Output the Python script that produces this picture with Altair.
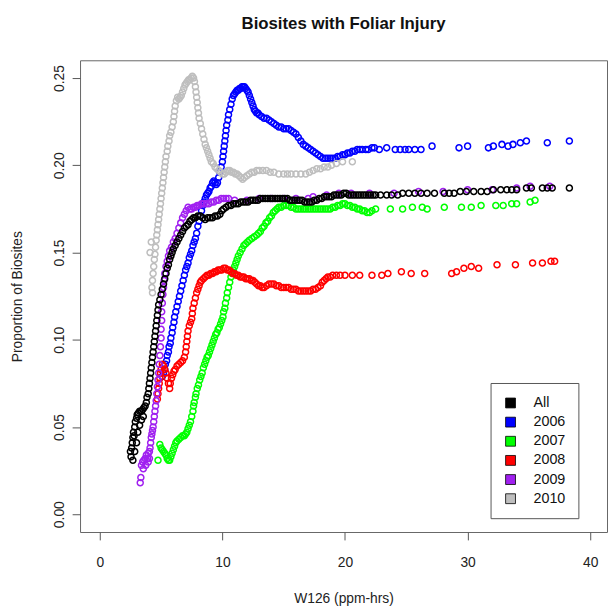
import altair as alt
import pandas as pd

series_names = ["All", "2006", "2007", "2008", "2009", "2010"]
series_colors = ["#000000", "#0000FF", "#00FF00", "#FF0000", "#A020F0", "#BEBEBE"]
x_ticks = [0, 10, 20, 30, 40]
y_ticks = [0.00, 0.05, 0.10, 0.15, 0.20, 0.25]

# [W126, proportion] readings per series
pts_all = [
    [2.5, 0.036], [2.55, 0.033], [2.6, 0.038], [2.65, 0.041], [2.7, 0.044], [2.75, 0.047], [2.8, 0.045],
    [2.85, 0.050], [2.9, 0.053], [3.0, 0.055], [3.05, 0.057], [3.15, 0.058], [3.25, 0.059], [3.4, 0.059],
    [2.7, 0.031], [2.85, 0.036], [3.0, 0.041], [3.1, 0.047], [3.25, 0.051], [3.4, 0.054], [3.55, 0.056],
    [3.5, 0.060], [3.6, 0.061], [3.7, 0.062], [3.8, 0.064], [3.85, 0.067], [3.95, 0.069], [4.0, 0.072],
    [4.05, 0.075], [4.1, 0.078], [4.15, 0.081], [4.2, 0.084], [4.25, 0.087], [4.3, 0.090], [4.35, 0.093],
    [4.4, 0.096], [4.45, 0.099], [4.5, 0.102], [4.55, 0.105], [4.6, 0.108], [4.65, 0.111], [4.7, 0.114],
    [4.75, 0.117], [4.8, 0.120], [4.9, 0.123], [5.0, 0.126], [5.1, 0.129], [5.2, 0.132], [5.3, 0.135],
    [5.4, 0.138], [5.5, 0.141], [5.6, 0.143], [5.7, 0.146], [5.8, 0.148], [5.9, 0.150], [6.0, 0.152],
    [6.15, 0.154], [6.3, 0.156], [6.45, 0.158], [6.6, 0.160], [6.75, 0.162], [6.9, 0.164], [7.05, 0.165],
    [7.2, 0.166], [7.35, 0.168], [7.5, 0.169], [7.65, 0.170], [7.8, 0.170], [8.0, 0.171], [8.2, 0.171],
    [8.4, 0.170], [8.6, 0.169], [8.8, 0.170], [9.0, 0.170], [9.2, 0.170], [9.4, 0.171], [9.6, 0.171],
    [9.8, 0.172], [9.95, 0.174], [10.1, 0.175], [10.3, 0.176], [10.5, 0.177], [10.7, 0.177], [10.9, 0.178],
    [11.1, 0.178], [11.3, 0.178], [11.5, 0.179], [11.7, 0.179], [11.9, 0.179], [12.1, 0.179], [12.3, 0.180],
    [12.5, 0.180], [12.7, 0.180], [12.9, 0.180], [13.1, 0.181], [13.3, 0.181], [13.5, 0.181], [13.7, 0.181],
    [13.9, 0.181], [14.1, 0.181], [14.3, 0.181], [14.5, 0.181], [14.7, 0.181], [14.9, 0.181], [15.1, 0.181],
    [15.3, 0.181], [15.5, 0.180], [15.7, 0.180], [15.9, 0.180], [16.1, 0.180], [16.3, 0.180], [16.5, 0.180],
    [16.7, 0.179], [16.9, 0.179], [17.1, 0.179], [17.3, 0.179], [17.5, 0.180], [17.7, 0.180], [17.9, 0.181],
    [18.1, 0.181], [18.3, 0.182], [18.5, 0.182], [18.7, 0.182], [18.9, 0.182], [19.1, 0.183], [19.3, 0.183],
    [19.5, 0.183], [19.7, 0.183], [19.9, 0.184], [20.1, 0.184], [20.3, 0.183], [20.5, 0.183], [20.7, 0.183],
    [20.9, 0.183], [21.1, 0.183], [21.3, 0.183], [21.5, 0.183], [21.7, 0.183], [21.9, 0.183], [22.1, 0.183],
    [22.3, 0.183], [22.5, 0.183], [22.9, 0.183], [23.4, 0.183], [23.8, 0.183], [24.3, 0.183], [24.7, 0.184],
    [25.2, 0.184], [25.7, 0.184], [26.2, 0.184], [26.7, 0.184], [27.3, 0.184], [28.1, 0.184], [28.5, 0.184],
    [28.9, 0.184], [29.4, 0.185], [29.9, 0.185], [30.5, 0.185], [31.1, 0.185], [31.6, 0.185], [32.1, 0.186],
    [32.7, 0.186], [33.2, 0.186], [33.6, 0.186], [34.0, 0.186], [34.8, 0.187], [35.2, 0.187], [36.1, 0.187],
    [36.5, 0.187], [36.9, 0.187], [38.3, 0.187],
]

pts_2006 = [
    [5.1, 0.079], [5.2, 0.081], [5.3, 0.083], [5.35, 0.086], [5.45, 0.088], [5.5, 0.091], [5.6, 0.093],
    [5.65, 0.096], [5.75, 0.098], [5.8, 0.101], [5.9, 0.104], [5.95, 0.107], [6.05, 0.110], [6.1, 0.113],
    [6.2, 0.116], [6.3, 0.119], [6.4, 0.122], [6.5, 0.125], [6.6, 0.128], [6.7, 0.131], [6.8, 0.134],
    [6.9, 0.137], [7.0, 0.140], [7.1, 0.142], [7.2, 0.144], [7.3, 0.147], [7.4, 0.149], [7.5, 0.151],
    [7.6, 0.154], [7.7, 0.156], [7.8, 0.158], [7.9, 0.161], [8.0, 0.165], [8.1, 0.168], [8.2, 0.171],
    [8.3, 0.174], [8.4, 0.177], [8.5, 0.179], [8.6, 0.181], [8.7, 0.183], [8.8, 0.184], [8.9, 0.185],
    [9.0, 0.187], [9.1, 0.188], [9.2, 0.190], [9.3, 0.191], [9.4, 0.190], [9.5, 0.189], [9.6, 0.190],
    [9.7, 0.193], [9.8, 0.196], [9.9, 0.199], [10.0, 0.202], [10.05, 0.205], [10.1, 0.208], [10.15, 0.211],
    [10.2, 0.214], [10.25, 0.217], [10.3, 0.220], [10.35, 0.223], [10.45, 0.226], [10.5, 0.229], [10.6, 0.232],
    [10.7, 0.235], [10.8, 0.238], [10.9, 0.240], [11.0, 0.241], [11.1, 0.242], [11.2, 0.243], [11.3, 0.243],
    [11.4, 0.244], [11.5, 0.244], [11.6, 0.245], [11.7, 0.245], [11.8, 0.245], [11.9, 0.244], [12.0, 0.243],
    [12.1, 0.242], [12.2, 0.240], [12.3, 0.238], [12.4, 0.236], [12.5, 0.234], [12.6, 0.232], [12.7, 0.231],
    [12.8, 0.230], [12.9, 0.230], [13.0, 0.229], [13.2, 0.228], [13.4, 0.227], [13.6, 0.227], [13.8, 0.226],
    [14.0, 0.225], [14.2, 0.224], [14.4, 0.223], [14.6, 0.222], [14.8, 0.222], [15.0, 0.221], [15.2, 0.221],
    [15.4, 0.221], [15.6, 0.220], [15.8, 0.219], [16.0, 0.218], [16.2, 0.216], [16.4, 0.214], [16.6, 0.212],
    [16.8, 0.211], [17.0, 0.210], [17.2, 0.209], [17.4, 0.208], [17.6, 0.207], [17.8, 0.206], [18.0, 0.205],
    [18.2, 0.204], [18.4, 0.204], [18.6, 0.204], [18.8, 0.204], [19.0, 0.204], [19.2, 0.204], [19.4, 0.205],
    [19.6, 0.205], [19.8, 0.206], [20.0, 0.206], [20.2, 0.207], [20.4, 0.207], [20.6, 0.208], [20.8, 0.208],
    [21.0, 0.209], [21.2, 0.209], [21.4, 0.209], [21.7, 0.209], [21.9, 0.209], [22.2, 0.210], [22.4, 0.210],
    [22.8, 0.209], [23.4, 0.210], [24.1, 0.209], [24.5, 0.209], [24.9, 0.209], [25.2, 0.209], [25.7, 0.209],
    [26.2, 0.209], [27.1, 0.211], [29.3, 0.210], [30.0, 0.211], [31.7, 0.210], [32.1, 0.211], [32.8, 0.212],
    [33.3, 0.211], [33.7, 0.212], [34.3, 0.213], [34.8, 0.214], [36.5, 0.213], [38.3, 0.214],
]

pts_2007 = [
    [4.75, 0.031], [4.9, 0.040], [5.0, 0.038], [5.1, 0.037], [5.2, 0.036], [5.3, 0.035], [5.4, 0.034],
    [5.5, 0.032], [5.6, 0.031], [5.7, 0.031], [5.8, 0.033], [5.9, 0.035], [6.0, 0.037], [6.1, 0.039],
    [6.2, 0.041], [6.3, 0.042], [6.45, 0.043], [6.6, 0.044], [6.75, 0.045], [6.9, 0.045], [7.0, 0.046],
    [7.1, 0.047], [7.2, 0.049], [7.3, 0.051], [7.4, 0.053], [7.5, 0.056], [7.6, 0.059], [7.65, 0.062],
    [7.7, 0.064], [7.8, 0.067], [7.85, 0.069], [7.95, 0.072], [8.05, 0.074], [8.15, 0.077], [8.25, 0.079],
    [8.35, 0.081], [8.45, 0.084], [8.55, 0.086], [8.65, 0.088], [8.75, 0.090], [8.85, 0.091], [8.95, 0.093],
    [9.05, 0.095], [9.15, 0.097], [9.25, 0.099], [9.35, 0.101], [9.45, 0.103], [9.55, 0.104], [9.65, 0.106],
    [9.75, 0.107], [9.85, 0.109], [9.95, 0.111], [10.05, 0.113], [10.1, 0.116], [10.2, 0.118], [10.25, 0.121],
    [10.35, 0.124], [10.4, 0.127], [10.5, 0.130], [10.6, 0.133], [10.7, 0.136], [10.8, 0.138], [10.9, 0.140],
    [11.0, 0.142], [11.1, 0.144], [11.2, 0.146], [11.3, 0.148], [11.45, 0.150], [11.6, 0.152], [11.75, 0.154],
    [11.9, 0.155], [12.05, 0.156], [12.2, 0.157], [12.4, 0.158], [12.6, 0.159], [12.8, 0.160], [12.95, 0.161],
    [13.1, 0.162], [13.25, 0.164], [13.4, 0.165], [13.55, 0.167], [13.7, 0.168], [13.85, 0.170], [14.0, 0.171],
    [14.15, 0.173], [14.3, 0.174], [14.45, 0.175], [14.6, 0.176], [14.8, 0.176], [15.0, 0.177], [15.2, 0.177],
    [15.4, 0.177], [15.6, 0.176], [15.8, 0.176], [16.0, 0.175], [16.2, 0.175], [16.4, 0.175], [16.6, 0.175],
    [16.8, 0.175], [17.0, 0.175], [17.2, 0.175], [17.4, 0.175], [17.6, 0.175], [17.8, 0.175], [18.0, 0.175],
    [18.2, 0.175], [18.4, 0.175], [18.6, 0.175], [18.8, 0.175], [19.0, 0.176], [19.2, 0.176], [19.4, 0.177],
    [19.6, 0.177], [19.8, 0.178], [20.0, 0.178], [20.2, 0.177], [20.4, 0.177], [20.6, 0.176], [20.8, 0.176],
    [21.0, 0.175], [21.2, 0.175], [21.4, 0.174], [21.6, 0.174], [21.8, 0.173], [22.0, 0.173], [22.2, 0.174],
    [22.5, 0.175], [23.7, 0.175], [24.7, 0.175], [25.5, 0.176], [26.3, 0.176], [26.7, 0.175], [28.1, 0.176],
    [29.5, 0.176], [30.3, 0.176], [31.1, 0.177], [32.3, 0.177], [32.9, 0.177], [33.6, 0.178], [34.0, 0.178],
    [35.1, 0.179], [35.5, 0.180],
]

pts_2008 = [
    [4.7, 0.066], [4.75, 0.069], [4.8, 0.072], [4.85, 0.075], [4.9, 0.078], [4.95, 0.081], [5.0, 0.083],
    [5.1, 0.086], [5.2, 0.085], [5.3, 0.083], [5.4, 0.081], [5.5, 0.078], [5.6, 0.075], [5.7, 0.072],
    [5.75, 0.075], [5.85, 0.078], [5.95, 0.080], [6.05, 0.082], [6.15, 0.083], [6.3, 0.085], [6.45, 0.086],
    [6.6, 0.087], [6.75, 0.088], [6.9, 0.090], [7.0, 0.093], [7.05, 0.096], [7.1, 0.099], [7.15, 0.102],
    [7.2, 0.105], [7.3, 0.108], [7.4, 0.110], [7.5, 0.112], [7.55, 0.115], [7.6, 0.118], [7.7, 0.121],
    [7.8, 0.124], [7.9, 0.127], [8.0, 0.129], [8.1, 0.131], [8.2, 0.133], [8.3, 0.134], [8.45, 0.135],
    [8.6, 0.136], [8.75, 0.137], [8.9, 0.137], [9.05, 0.138], [9.2, 0.138], [9.35, 0.139], [9.5, 0.139],
    [9.65, 0.140], [9.8, 0.140], [9.95, 0.140], [10.1, 0.141], [10.25, 0.141], [10.4, 0.140], [10.55, 0.140],
    [10.7, 0.139], [10.85, 0.138], [11.0, 0.138], [11.15, 0.137], [11.3, 0.137], [11.45, 0.136], [11.6, 0.136],
    [11.75, 0.136], [11.9, 0.135], [12.05, 0.135], [12.2, 0.135], [12.35, 0.134], [12.5, 0.134], [12.65, 0.133],
    [12.8, 0.132], [12.95, 0.131], [13.1, 0.131], [13.25, 0.130], [13.4, 0.130], [13.6, 0.131], [13.8, 0.132],
    [14.0, 0.132], [14.2, 0.132], [14.4, 0.131], [14.6, 0.131], [14.8, 0.130], [15.0, 0.130], [15.2, 0.130],
    [15.4, 0.130], [15.6, 0.129], [15.8, 0.129], [16.0, 0.129], [16.2, 0.128], [16.4, 0.128], [16.6, 0.128],
    [16.8, 0.128], [17.0, 0.128], [17.2, 0.128], [17.4, 0.129], [17.6, 0.129], [17.8, 0.130], [18.0, 0.131],
    [18.15, 0.133], [18.3, 0.134], [18.45, 0.135], [18.6, 0.136], [18.8, 0.136], [19.0, 0.137], [19.3, 0.137],
    [19.6, 0.137], [20.0, 0.137], [20.6, 0.137], [21.2, 0.137], [22.2, 0.137], [23.0, 0.137], [23.5, 0.138],
    [24.6, 0.139], [25.4, 0.138], [26.5, 0.138], [28.7, 0.138], [29.1, 0.139], [29.7, 0.141], [30.3, 0.142],
    [30.9, 0.141], [32.4, 0.143], [33.9, 0.143], [35.3, 0.144], [36.1, 0.144], [36.8, 0.145], [37.1, 0.145],
]

pts_2009 = [
    [3.3, 0.018], [3.35, 0.021], [3.4, 0.028], [3.5, 0.030], [3.6, 0.031], [3.7, 0.032], [3.8, 0.034],
    [3.55, 0.026], [3.75, 0.028], [3.95, 0.030], [4.05, 0.032],
    [3.9, 0.032], [3.95, 0.035], [4.05, 0.036], [4.1, 0.038], [4.15, 0.041], [4.2, 0.044], [4.25, 0.046],
    [4.3, 0.048], [4.35, 0.050], [4.4, 0.053], [4.45, 0.056], [4.5, 0.059], [4.55, 0.062], [4.6, 0.065],
    [4.65, 0.069], [4.7, 0.073], [4.75, 0.077], [4.8, 0.081], [4.85, 0.086], [4.9, 0.091], [4.95, 0.096],
    [5.0, 0.101], [5.0, 0.106], [5.05, 0.111], [5.05, 0.116], [5.1, 0.121], [5.15, 0.126], [5.2, 0.130],
    [5.25, 0.134], [5.3, 0.138], [5.4, 0.142], [5.5, 0.145], [5.6, 0.148], [5.7, 0.151], [5.85, 0.153],
    [6.0, 0.156], [6.15, 0.158], [6.3, 0.161], [6.45, 0.164], [6.6, 0.167], [6.75, 0.170], [6.9, 0.172],
    [7.05, 0.174], [7.2, 0.176], [7.35, 0.175], [7.5, 0.175], [7.65, 0.176], [7.8, 0.176], [7.95, 0.177],
    [8.1, 0.177], [8.3, 0.178], [8.5, 0.178], [8.7, 0.178], [8.9, 0.178], [9.1, 0.179], [9.3, 0.179],
    [9.5, 0.180], [9.7, 0.180], [9.9, 0.181], [10.1, 0.181], [10.3, 0.181], [10.5, 0.181], [11.0, 0.180],
    [12.0, 0.180], [13.0, 0.181], [14.0, 0.181], [15.0, 0.181], [16.0, 0.181], [17.0, 0.181], [17.4, 0.182],
    [18.5, 0.183], [19.5, 0.184], [20.5, 0.184], [22.0, 0.184], [24.0, 0.184], [26.0, 0.185], [28.0, 0.185],
    [30.0, 0.186], [32.0, 0.186], [34.0, 0.187], [35.1, 0.188], [36.7, 0.188],
]

pts_2010 = [
    [4.1, 0.150], [4.2, 0.156], [4.25, 0.130], [4.3, 0.127], [4.3, 0.134], [4.35, 0.138], [4.4, 0.142],
    [4.45, 0.146], [4.5, 0.149], [4.55, 0.153], [4.6, 0.157], [4.65, 0.160], [4.7, 0.163], [4.75, 0.166],
    [4.8, 0.169], [4.85, 0.172], [4.9, 0.175], [4.95, 0.178], [5.0, 0.181], [5.05, 0.184], [5.1, 0.187],
    [5.15, 0.190], [5.2, 0.193], [5.25, 0.196], [5.3, 0.199], [5.35, 0.202], [5.4, 0.205], [5.5, 0.208],
    [5.55, 0.211], [5.65, 0.214], [5.7, 0.217], [5.8, 0.219], [5.9, 0.222], [6.0, 0.225], [6.05, 0.228],
    [6.1, 0.231], [6.15, 0.234], [6.25, 0.237], [6.35, 0.239], [6.45, 0.238], [6.55, 0.239], [6.65, 0.240],
    [6.75, 0.242], [6.85, 0.244], [6.95, 0.246], [7.05, 0.247], [7.15, 0.248], [7.25, 0.249], [7.35, 0.249],
    [7.45, 0.250], [7.55, 0.251], [7.65, 0.250], [7.72, 0.248], [7.8, 0.245], [7.85, 0.242], [7.9, 0.239],
    [7.95, 0.236], [8.0, 0.233], [8.05, 0.230], [8.1, 0.227], [8.2, 0.224], [8.3, 0.221], [8.4, 0.218],
    [8.5, 0.215], [8.6, 0.212], [8.7, 0.210], [8.8, 0.208], [8.9, 0.206], [9.0, 0.204], [9.1, 0.202],
    [9.25, 0.201], [9.4, 0.199], [9.55, 0.198], [9.7, 0.197], [9.85, 0.196], [10.0, 0.195], [10.15, 0.195],
    [10.3, 0.196], [10.45, 0.197], [10.6, 0.197], [10.75, 0.196], [10.9, 0.196], [11.05, 0.195], [11.2, 0.195],
    [11.35, 0.194], [11.5, 0.193], [11.65, 0.192], [11.8, 0.193], [12.0, 0.194], [12.2, 0.195], [12.4, 0.196],
    [12.6, 0.196], [12.8, 0.197], [13.0, 0.197], [13.3, 0.197], [13.6, 0.197], [13.9, 0.196], [14.2, 0.196],
    [14.6, 0.195], [15.0, 0.195], [15.3, 0.195], [15.6, 0.195], [16.0, 0.195], [16.4, 0.195], [16.8, 0.195],
    [17.1, 0.196], [17.4, 0.197], [17.7, 0.198], [18.0, 0.198], [18.3, 0.199], [18.6, 0.199], [18.9, 0.200],
    [19.3, 0.201], [19.8, 0.202], [20.6, 0.202],
]

# drawing order: the years first, "All" on top
draw = [("2006", pts_2006), ("2007", pts_2007), ("2008", pts_2008),
        ("2009", pts_2009), ("2010", pts_2010), ("All", pts_all)]
rows = []
for name, pts in draw:
    for xv, yv in pts:
        rows.append({"series": name, "w126": xv, "prop": yv})
df = pd.DataFrame(rows)

# open-circle glyph drawn as a filled ring (so the legend can show filled squares)
RING = ("M1,0A1,1,0,1,0,-1,0A1,1,0,1,0,1,0Z"
        "M0.6,0A0.6,0.6,0,1,1,-0.6,0A0.6,0.6,0,1,1,0.6,0Z")

FONT = "Liberation Sans"

chart = alt.Chart(df).mark_point(
    shape=RING, filled=True, size=58, opacity=1
).encode(
    x=alt.X("w126:Q", scale=alt.Scale(domain=[-1.61, 41.37], nice=False, zero=False),
            axis=alt.Axis(values=x_ticks, title="W126 (ppm-hrs)", titleY=67, titleBaseline="middle",
                          labelPadding=16)),
    y=alt.Y("prop:Q", scale=alt.Scale(domain=[-0.0102, 0.2602], nice=False, zero=False),
            axis=alt.Axis(values=y_ticks, format=".2f", title="Proportion of Biosites",
                          labelAngle=270, labelAlign="center", labelBaseline="bottom", labelPadding=6,
                          titleX=-63, titleY=239, titleAngle=270, titleBaseline="middle", titleAlign="center")),
    color=alt.Color("series:N", scale=alt.Scale(domain=series_names, range=series_colors),
                    legend=alt.Legend(title=None, orient="none", legendX=416, legendY=327,
                                      symbolType="square", symbolSize=100, symbolStrokeColor="black",
                                      symbolStrokeWidth=0.8, strokeColor="#555", fillColor="white",
                                      padding=13, rowPadding=4.4, labelOffset=16, labelFontSize=14.5,
                                      labelFont=FONT, labelColor="#111")),
).properties(
    width=534, height=478,
    title=alt.TitleParams("Biosites with Foliar Injury", fontSize=17, fontWeight="bold", font=FONT,
                          anchor="middle", offset=20, baseline="middle", color="#111"),
    autosize=alt.AutoSizeParams(type="none"),
    padding={"left": 73, "top": 49, "right": 1, "bottom": 72},
).configure_view(
    stroke="#666", strokeWidth=1
).configure_axis(
    grid=False, domain=False, ticks=True, tickSize=8, tickColor="#555", tickWidth=1,
    labelFont=FONT, labelFontSize=14, labelColor="#222", titleFont=FONT, titleFontSize=14,
    titleColor="#222", titleFontWeight="normal"
)

chart.save("out.html", embed_options={"renderer": "svg", "actions": False})
